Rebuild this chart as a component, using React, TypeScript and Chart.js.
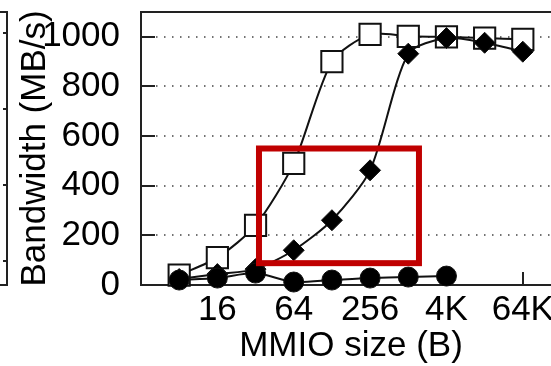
import { useEffect, useRef } from 'react';
import { Chart, registerables } from 'chart.js';

Chart.register(...registerables);

const sizes = ['8', '16', '32', '64', '128', '256', '1K', '4K', '16K', '64K'];
const shownTicks = ['16', '64', '256', '4K', '64K'];
const squareSeries = [40, 110, 240, 490, 900, 1010, 1002, 1000, 995, 990];
const diamondSeries = [24, 44, 64, 140, 261, 462, 932, 995, 976, 940];
const circleSeries = [20, 28, 48, 12, 20, 28, 32, 36];
const yTicks = [0, 200, 400, 600, 800, 1000];
const highlightX = [2.09, 6.28];
const highlightY = [88, 550];

const FONT = 'Liberation Sans, Arial, sans-serif';

const toPoints = (vals: number[]) => vals.map((v, i) => ({ x: i, y: v }));

const framePlugin = {
  id: 'frame',
  beforeDatasetsDraw(chart: any) {
    const { ctx, chartArea: a, scales } = chart;
    const x = scales.x;
    const y = scales.y;
    ctx.save();
    ctx.strokeStyle = '#444';
    ctx.lineWidth = 1.5;
    ctx.setLineDash([1.5, 6.5]);
    for (const v of yTicks) {
      if (v === 0) continue;
      const py = Math.round(y.getPixelForValue(v));
      ctx.beginPath();
      ctx.moveTo(a.left + 15, py);
      ctx.lineTo(a.right, py);
      ctx.stroke();
    }
    ctx.setLineDash([]);
    ctx.strokeStyle = '#222';
    ctx.lineWidth = 2;
    for (const v of yTicks) {
      const py = Math.round(y.getPixelForValue(v));
      ctx.beginPath();
      ctx.moveTo(a.left, py);
      ctx.lineTo(a.left + 14, py);
      ctx.stroke();
    }
    for (const lbl of shownTicks) {
      const px = Math.round(x.getPixelForValue(sizes.indexOf(lbl)));
      ctx.beginPath();
      ctx.moveTo(px, a.bottom);
      ctx.lineTo(px, a.bottom - 13);
      ctx.stroke();
    }
    ctx.strokeRect(a.left, a.top, a.right - a.left, a.bottom - a.top);
    ctx.restore();
  },
  afterDatasetsDraw(chart: any) {
    const { ctx, scales } = chart;
    const x = scales.x;
    const y = scales.y;
    const x0 = x.getPixelForValue(highlightX[0]);
    const x1 = x.getPixelForValue(highlightX[1]);
    const y0 = y.getPixelForValue(highlightY[1]);
    const y1 = y.getPixelForValue(highlightY[0]);
    ctx.save();
    ctx.strokeStyle = '#c00000';
    ctx.lineWidth = 6;
    ctx.strokeRect(x0, y0, x1 - x0, y1 - y0);
    ctx.restore();
  },
};

export default function App() {
  const ref = useRef<HTMLCanvasElement | null>(null);
  useEffect(() => {
    if (!ref.current) return;
    const common = {
      borderColor: '#111',
      borderWidth: 2,
      tension: 0.25,
      clip: false as any,
      pointBorderWidth: 2,
      pointBorderColor: '#111',
    };
    const chart = new Chart(ref.current, {
      type: 'line',
      data: {
        datasets: [
          {
            ...common,
            label: 'circle',
            data: toPoints(circleSeries),
            pointStyle: 'circle',
            pointRadius: 10,
            pointBackgroundColor: '#000',
            pointBorderWidth: 1,
          },
          {
            ...common,
            label: 'diamond',
            data: toPoints(diamondSeries),
            pointStyle: 'rectRot',
            pointRadius: 10.5,
            pointBackgroundColor: '#000',
            pointBorderWidth: 1,
          },
          {
            ...common,
            label: 'square',
            data: toPoints(squareSeries),
            pointStyle: 'rect',
            pointRadius: 15,
            pointBackgroundColor: '#fff',
          },
        ],
      },
      options: {
        animation: false,
        responsive: false,
        events: [],
        layout: { autoPadding: false, padding: { top: 12, right: 14, left: 0, bottom: 0 } },
        plugins: { legend: { display: false }, tooltip: { enabled: false } },
        scales: {
          x: {
            type: 'linear',
            min: -1,
            max: 10,
            grid: { display: false },
            border: { display: false },
            afterBuildTicks: (s: any) => {
              s.ticks = shownTicks.map((l) => ({ value: sizes.indexOf(l) }));
            },
            afterFit: (s: any) => {
              s.height = 81;
              s.paddingLeft = 0;
              s.paddingRight = 0;
            },
            ticks: {
              autoSkip: false,
              maxRotation: 0,
              padding: -4,
              color: '#000',
              font: { family: FONT, size: 35 },
              callback: (v: any) => sizes[v as number],
            },
            title: {
              display: true,
              text: 'MMIO size (B)',
              color: '#000',
              padding: { top: 0, bottom: -1 },
              font: { family: FONT, size: 35 },
            },
          },
          y: {
            min: 0,
            max: 1100,
            grid: { display: false },
            border: { display: false },
            afterBuildTicks: (s: any) => {
              s.ticks = yTicks.map((v) => ({ value: v }));
            },
            afterFit: (s: any) => {
              s.width = 141;
              s.paddingTop = 0;
              s.paddingBottom = 0;
            },
            ticks: {
              padding: 13,
              color: '#000',
              font: { family: FONT, size: 35 },
              callback: (v: any) => String(v),
            },
            title: {
              display: true,
              text: 'Bandwidth (MB/s)',
              color: '#000',
              padding: { top: 14, bottom: 0 },
              font: { family: FONT, size: 35 },
            },
          },
        },
      },
      plugins: [framePlugin],
    });
    return () => chart.destroy();
  }, []);

  const tickYs = [33, 109, 185, 261];
  return (
    <div
      style={{
        position: 'absolute',
        left: 0,
        top: 0,
        width: 551,
        height: 366,
        overflow: 'hidden',
        background: '#fff',
      }}
    >
      <div
        style={{
          position: 'absolute',
          left: -10,
          top: 11,
          width: 16,
          height: 271,
          borderTop: '2px solid #222',
          borderRight: '2px solid #222',
          borderBottom: '2px solid #222',
        }}
      />
      {tickYs.map((t) => (
        <div
          key={t}
          style={{
            position: 'absolute',
            left: 3,
            top: t - 1,
            width: 4,
            height: 2,
            background: '#222',
          }}
        />
      ))}
      <canvas
        ref={ref}
        width={575}
        height={366}
        style={{ position: 'absolute', left: 0, top: 0, width: 575, height: 366 }}
      />
    </div>
  );
}
